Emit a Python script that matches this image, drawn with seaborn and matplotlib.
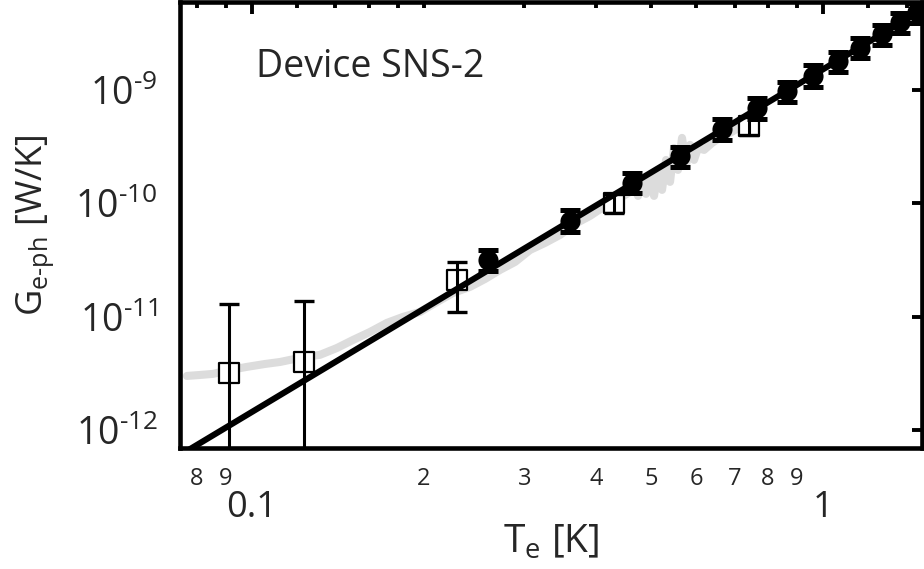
import matplotlib
matplotlib.use("Agg")
import matplotlib.pyplot as plt
import seaborn as sns
from matplotlib.ticker import FixedLocator, FixedFormatter, NullLocator

# ---------------- data ----------------
circ_T = [0.259, 0.3605, 0.463, 0.562, 0.665, 0.766, 0.865, 0.9605, 1.062, 1.161, 1.268, 1.364, 1.461]
circ_G = [3.18e-11, 7.0e-11, 1.52e-10, 2.62e-10, 4.53e-10, 6.94e-10, 9.8e-10, 1.328e-9, 1.80e-9,
          2.34e-9, 3.11e-9, 3.97e-9, 4.87e-9]
circ_lo = [2.55e-11, 5.61e-11, 1.24e-10, 2.10e-10, 3.63e-10, 5.55e-10, 7.84e-10, 1.063e-9, 1.44e-9,
           1.91e-9, 2.49e-9, 3.18e-9, 3.89e-9]
circ_hi = [3.9e-11, 8.77e-11, 1.86e-10, 3.15e-10, 5.55e-10, 8.5e-10, 1.176e-9, 1.66e-9, 2.16e-9,
           2.87e-9, 3.74e-9, 4.77e-9, 5.84e-9]

sq_T = [0.0911, 0.1233, 0.2286, 0.4305, 0.742]
sq_G = [3.21e-12, 4.01e-12, 2.12e-11, 1.01e-10, 4.82e-10]
sq_lo = [1e-15, 1e-15, 1.107e-11, 8.25e-11, 4.0e-10]
sq_hi = [1.30e-11, 1.38e-11, 3.05e-11, 1.21e-10, 5.78e-10]

gray_T = [0.0769, 0.0811, 0.0855, 0.0915, 0.0980, 0.1054, 0.1120, 0.1189, 0.1228, 0.1315,
          0.1409, 0.1503, 0.1610, 0.1723, 0.1838, 0.1969, 0.2109, 0.2249, 0.2408,
          0.2559, 0.2718, 0.2888, 0.3068, 0.3260, 0.3462, 0.3678, 0.3907, 0.4151, 0.4410,
          0.4592, 0.4667, 0.4742, 0.4819, 0.4897, 0.4977, 0.5058, 0.5140, 0.5224, 0.5309,
          0.5395, 0.5482, 0.5571, 0.5662, 0.5754, 0.5849, 0.5943, 0.6040, 0.6188, 0.6391,
          0.6547, 0.6872, 0.7302]
gray_G = [3.02e-12, 3.08e-12, 3.15e-12, 3.41e-12, 3.63e-12, 3.85e-12, 4.01e-12, 4.27e-12, 4.44e-12,
          4.63e-12, 5.33e-12, 6.27e-12, 7.38e-12, 8.86e-12, 1.00e-11, 1.107e-11, 1.356e-11,
          1.627e-11, 1.838e-11,
          2.16e-11, 2.595e-11, 3.05e-11, 3.89e-11, 4.49e-11, 5.28e-11, 6.60e-11, 7.76e-11,
          9.51e-11, 1.118e-10,
          1.263e-10, 1.426e-10, 1.164e-10, 1.61e-10, 1.213e-10, 1.747e-10, 1.164e-10, 1.973e-10,
          1.315e-10, 2.416e-10, 1.547e-10, 3.08e-10, 1.973e-10, 3.78e-10, 2.18e-10, 3.28e-10,
          2.416e-10, 3.08e-10, 2.96e-10, 3.41e-10, 3.70e-10, 4.18e-10, 5.02e-10]

fit_T = [0.07, 1.6]
fit_G = [4.96e-13, 6.28e-9]

xmajor_ticks = [0.1, 1.0]
xmajor_labels = ["0.1", "1"]
xminor_ticks = [0.08, 0.09, 0.12, 0.14, 0.16, 0.18, 0.2, 0.3, 0.4, 0.5, 0.6, 0.7, 0.8, 0.9, 1.2, 1.4]
xminor_labels = ["8", "9", "", "", "", "", "2", "3", "4", "5", "6", "7", "8", "9", "", ""]
y_ticks = [1e-12, 1e-11, 1e-10, 1e-9]
y_labels = [r"$10^{\text{-}12}$", r"$10^{\text{-}11}$", r"$10^{\text{-}10}$", r"$10^{\text{-}9}$"]

# ---------------- style ----------------
sns.set_style("white")
FONT = "Open Sans"
plt.rcParams["font.family"] = [FONT, "DejaVu Sans"]
plt.rcParams["mathtext.fontset"] = "custom"
plt.rcParams["mathtext.rm"] = FONT
plt.rcParams["mathtext.it"] = FONT + ":italic"
plt.rcParams["mathtext.bf"] = FONT + ":bold"
plt.rcParams["mathtext.default"] = "regular"

W, H = 924, 569
fig = plt.figure(figsize=(W / 100, H / 100), dpi=100)
ax = fig.add_axes([180 / W, 1 - 448 / H, (922 - 180) / W, (448 - 2) / H])
ax.set_xscale("log")
ax.set_yscale("log")

sns.lineplot(x=gray_T, y=gray_G, ax=ax, color="#dcdcdc", lw=5.8, estimator=None, sort=False,
             zorder=1, solid_joinstyle="round", solid_capstyle="round")

sns.scatterplot(x=sq_T, y=sq_G, ax=ax, marker="s", s=220, facecolor="white",
                edgecolor="black", linewidth=1.6, zorder=2)
ax.errorbar(sq_T, sq_G,
            yerr=[[g - l for g, l in zip(sq_G, sq_lo)], [h - g for g, h in zip(sq_G, sq_hi)]],
            fmt="none", ecolor="black", elinewidth=2.2, capsize=7.2, capthick=2.4, zorder=3)

sns.lineplot(x=fit_T, y=fit_G, ax=ax, color="black", lw=4.4, estimator=None, zorder=4)

ax.errorbar(circ_T, circ_G,
            yerr=[[g - l for g, l in zip(circ_G, circ_lo)], [h - g for g, h in zip(circ_G, circ_hi)]],
            fmt="none", ecolor="black", elinewidth=2.5, capsize=7.5, capthick=3.6, zorder=5)
sns.scatterplot(x=circ_T, y=circ_G, ax=ax, marker="o", s=210, color="black", linewidth=0,
                zorder=6)

ax.set_xlim(0.0748, 1.49)
ax.set_ylim(7.0e-13, 5.95e-9)

for s in ax.spines.values():
    s.set_linewidth(3.3)
    s.set_color("black")

ax.xaxis.set_major_locator(FixedLocator(xmajor_ticks))
ax.xaxis.set_major_formatter(FixedFormatter(xmajor_labels))
ax.xaxis.set_minor_locator(FixedLocator(xminor_ticks))
ax.xaxis.set_minor_formatter(FixedFormatter(xminor_labels))
ax.yaxis.set_major_locator(FixedLocator(y_ticks))
ax.yaxis.set_major_formatter(FixedFormatter(y_labels))
ax.yaxis.set_minor_locator(NullLocator())

ax.tick_params(axis="x", which="major", direction="in", length=8.5, width=2.8, top=True,
               labelsize=26, pad=30, color="black")
ax.tick_params(axis="x", which="minor", direction="in", length=4.5, width=2.8, top=True,
               labelsize=17, pad=14, color="black")
ax.tick_params(axis="y", which="major", direction="in", length=7.2, width=2.8, right=True,
               labelsize=27, pad=16, color="black")

ax.set_xlabel("")
ax.set_ylabel("")

fig.text(256 / W, 1 - 77 / H, "Device SNS-2", fontsize=27, ha="left", va="baseline")
fig.text(551 / W, 1 - 553 / H, r"T$_\mathregular{e}$ [K]", fontsize=28, ha="center", va="baseline")
fig.text(35 / W, 1 - 225 / H, r"G$_\mathregular{e\text{-}ph}$ [W/K]", fontsize=26, ha="center",
         va="center", rotation=90)

fig.savefig("out.png", dpi=100)
